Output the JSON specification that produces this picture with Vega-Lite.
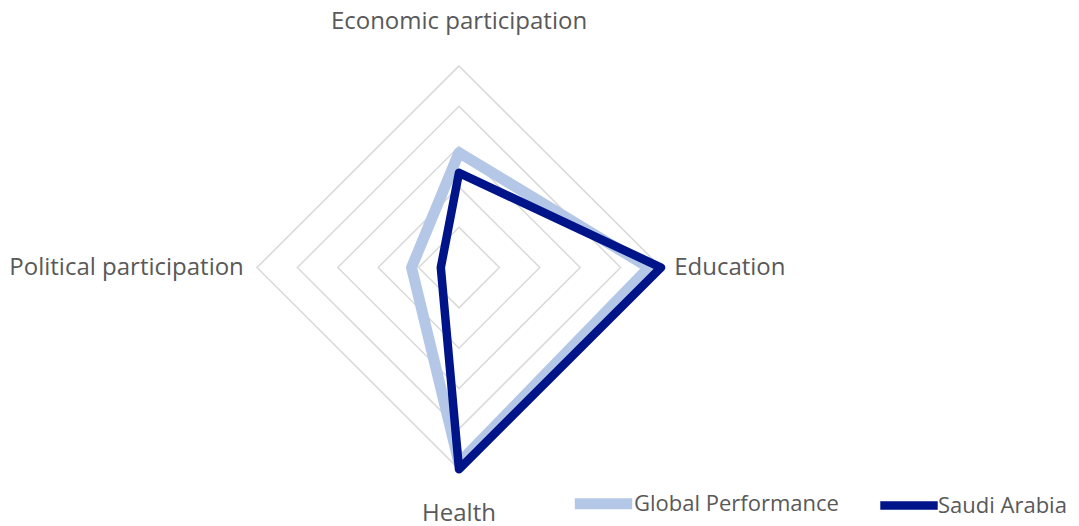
{
  "$schema": "https://vega.github.io/schema/vega-lite/v6.json",
  "width": 1079,
  "height": 526,
  "padding": 0,
  "autosize": {"type": "none"},
  "background": "white",
  "config": {"view": {"stroke": null}, "font": "Open Sans"},
  "datasets": {
    "scores": [
      {"series": "Global Performance", "axis": "Economic participation", "idx": 0, "value": 0.57},
      {"series": "Global Performance", "axis": "Education", "idx": 1, "value": 0.94},
      {"series": "Global Performance", "axis": "Health", "idx": 2, "value": 0.97},
      {"series": "Global Performance", "axis": "Political participation", "idx": 3, "value": 0.235},
      {"series": "Saudi Arabia", "axis": "Economic participation", "idx": 0, "value": 0.47},
      {"series": "Saudi Arabia", "axis": "Education", "idx": 1, "value": 1.0},
      {"series": "Saudi Arabia", "axis": "Health", "idx": 2, "value": 1.0},
      {"series": "Saudi Arabia", "axis": "Political participation", "idx": 3, "value": 0.09}
    ],
    "grid": [
      {"level": 0.2, "idx": 0}, {"level": 0.2, "idx": 1}, {"level": 0.2, "idx": 2}, {"level": 0.2, "idx": 3},
      {"level": 0.4, "idx": 0}, {"level": 0.4, "idx": 1}, {"level": 0.4, "idx": 2}, {"level": 0.4, "idx": 3},
      {"level": 0.6, "idx": 0}, {"level": 0.6, "idx": 1}, {"level": 0.6, "idx": 2}, {"level": 0.6, "idx": 3},
      {"level": 0.8, "idx": 0}, {"level": 0.8, "idx": 1}, {"level": 0.8, "idx": 2}, {"level": 0.8, "idx": 3},
      {"level": 1.0, "idx": 0}, {"level": 1.0, "idx": 1}, {"level": 1.0, "idx": 2}, {"level": 1.0, "idx": 3}
    ],
    "axes": [
      {"axis": "Economic participation", "idx": 0},
      {"axis": "Education", "idx": 1},
      {"axis": "Health", "idx": 2},
      {"axis": "Political participation", "idx": 3}
    ]
  },
  "layer": [
    {
      "data": {"name": "grid"},
      "transform": [
        {"calculate": "datum.idx * PI / 2", "as": "angle"},
        {"calculate": "datum.level * sin(datum.angle)", "as": "px"},
        {"calculate": "datum.level * cos(datum.angle)", "as": "py"}
      ],
      "mark": {"type": "line", "interpolate": "linear-closed", "stroke": "#D9D9D9", "strokeWidth": 1.5},
      "encoding": {
        "x": {"field": "px", "type": "quantitative", "scale": {"domain": [-2.272, 3.069], "nice": false, "zero": false}, "axis": null},
        "y": {"field": "py", "type": "quantitative", "scale": {"domain": [-1.282, 1.327], "nice": false, "zero": false}, "axis": null},
        "detail": {"field": "level", "type": "nominal"},
        "order": {"field": "idx", "type": "quantitative"}
      }
    },
    {
      "data": {"name": "scores"},
      "transform": [
        {"calculate": "datum.idx * PI / 2", "as": "angle"},
        {"calculate": "datum.value * sin(datum.angle)", "as": "px"},
        {"calculate": "datum.value * cos(datum.angle)", "as": "py"}
      ],
      "mark": {"type": "line", "interpolate": "linear-closed", "strokeJoin": "round", "strokeCap": "round"},
      "encoding": {
        "x": {"field": "px", "type": "quantitative", "scale": {"domain": [-2.272, 3.069], "nice": false, "zero": false}, "axis": null},
        "y": {"field": "py", "type": "quantitative", "scale": {"domain": [-1.282, 1.327], "nice": false, "zero": false}, "axis": null},
        "order": {"field": "idx", "type": "quantitative"},
        "strokeWidth": {"field": "series", "type": "nominal", "scale": {"domain": ["Global Performance", "Saudi Arabia"], "range": [11, 8.5]}, "legend": null},
        "color": {
          "field": "series", "type": "nominal",
          "scale": {"domain": ["Global Performance", "Saudi Arabia"], "range": ["#B4C7E7", "#001489"]},
          "legend": {
            "title": null, "orient": "none", "direction": "horizontal",
            "legendX": 569, "legendY": 469, "padding": 0,
            "symbolType": "stroke", "symbolSize": 3300, "symbolStrokeWidth": 9,
            "labelFontSize": 22, "labelColor": "#595959", "labelFont": "Open Sans", "labelFontWeight": 400,
            "labelOffset": -4, "labelLimit": 0, "columnPadding": 24
          }
        }
      }
    },
    {
      "data": {"name": "axes"},
      "transform": [
        {"filter": "datum.idx == 0 || datum.idx == 2"},
        {"calculate": "datum.idx * PI / 2", "as": "angle"},
        {"calculate": "1.215 * sin(datum.angle)", "as": "px"},
        {"calculate": "1.22 * cos(datum.angle)", "as": "py"}
      ],
      "mark": {"type": "text", "align": "center", "baseline": "middle", "fontSize": 24, "fontWeight": 400, "color": "#595959"},
      "encoding": {
        "x": {"field": "px", "type": "quantitative", "scale": {"domain": [-2.272, 3.069], "nice": false, "zero": false}, "axis": null},
        "y": {"field": "py", "type": "quantitative", "scale": {"domain": [-1.282, 1.327], "nice": false, "zero": false}, "axis": null},
        "text": {"field": "axis"}
      }
    },
    {
      "data": {"name": "axes"},
      "transform": [
        {"filter": "datum.idx == 1"},
        {"calculate": "datum.idx * PI / 2", "as": "angle"},
        {"calculate": "1.065 * sin(datum.angle)", "as": "px"},
        {"calculate": "1.065 * cos(datum.angle)", "as": "py"}
      ],
      "mark": {"type": "text", "align": "left", "baseline": "middle", "fontSize": 24, "fontWeight": 400, "color": "#595959"},
      "encoding": {
        "x": {"field": "px", "type": "quantitative", "scale": {"domain": [-2.272, 3.069], "nice": false, "zero": false}, "axis": null},
        "y": {"field": "py", "type": "quantitative", "scale": {"domain": [-1.282, 1.327], "nice": false, "zero": false}, "axis": null},
        "text": {"field": "axis"}
      }
    },
    {
      "data": {"name": "axes"},
      "transform": [
        {"filter": "datum.idx == 3"},
        {"calculate": "datum.idx * PI / 2", "as": "angle"},
        {"calculate": "1.065 * sin(datum.angle)", "as": "px"},
        {"calculate": "1.065 * cos(datum.angle)", "as": "py"}
      ],
      "mark": {"type": "text", "align": "right", "baseline": "middle", "fontSize": 24, "fontWeight": 400, "color": "#595959"},
      "encoding": {
        "x": {"field": "px", "type": "quantitative", "scale": {"domain": [-2.272, 3.069], "nice": false, "zero": false}, "axis": null},
        "y": {"field": "py", "type": "quantitative", "scale": {"domain": [-1.282, 1.327], "nice": false, "zero": false}, "axis": null},
        "text": {"field": "axis"}
      }
    }
  ]
}
